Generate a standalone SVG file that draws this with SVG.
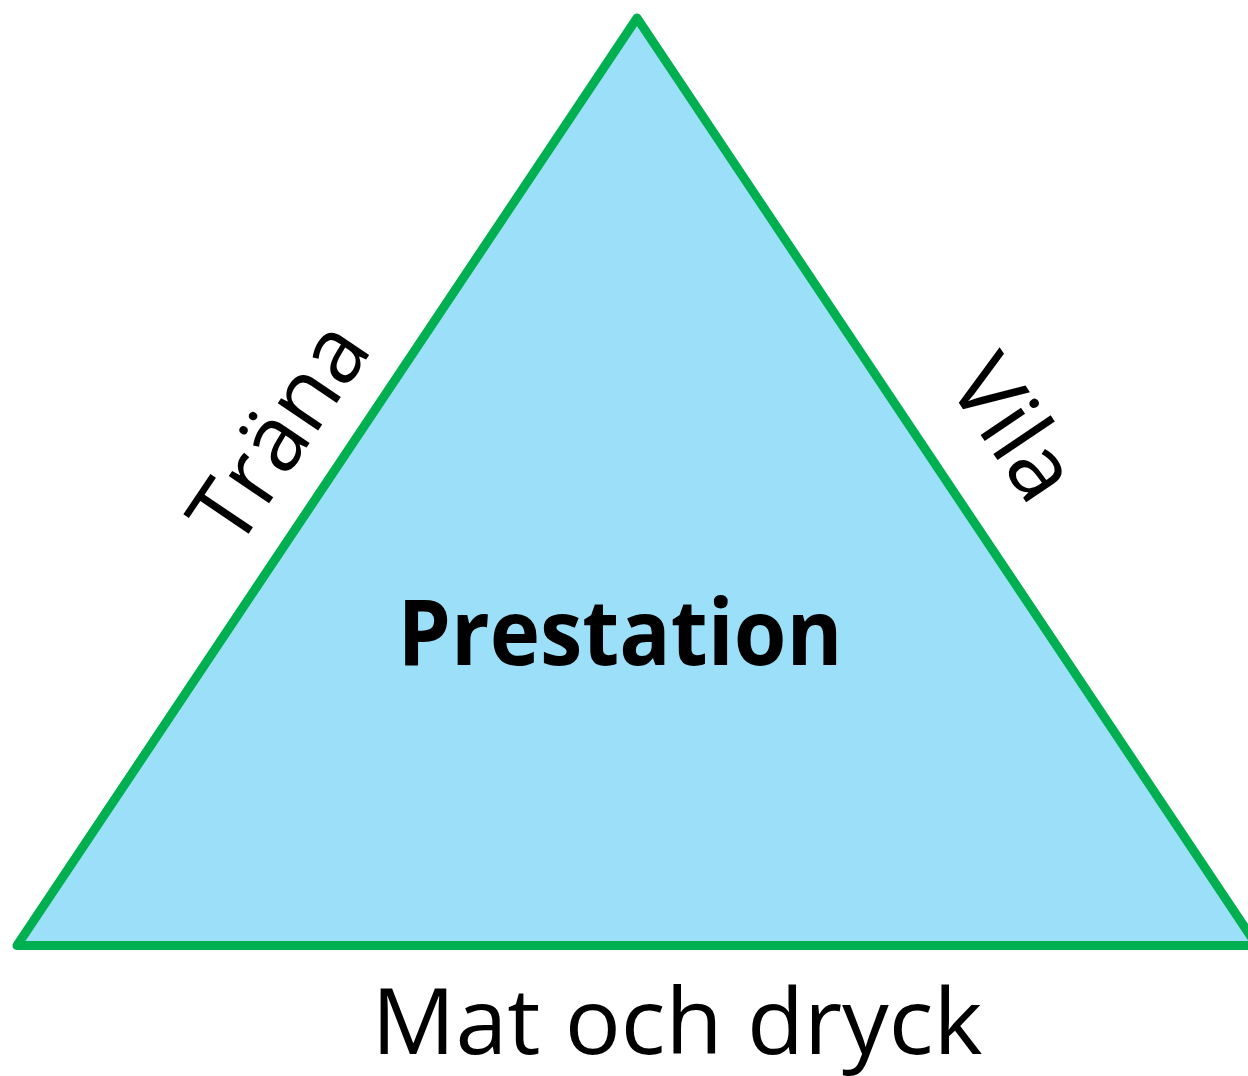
<svg xmlns="http://www.w3.org/2000/svg" width="1248" height="1076" viewBox="0 0 1248 1076">
<style>
.lbl{font-family:"Open Sans","Liberation Sans",sans-serif;fill:#000;text-anchor:middle}
</style>
<rect width="1248" height="1076" fill="#fff"/>
<g id="triangle">
<polygon points="637,18 17,945.5 1257,945.5" fill="#9BDFF8" stroke="#00B050" stroke-width="9" stroke-linejoin="round"/>
</g>
<g id="connectors"></g>
<g id="prestation">
<text class="lbl" x="620" y="665" font-size="91" font-weight="bold" textLength="445" lengthAdjust="spacingAndGlyphs">Prestation</text>
</g>
<g id="trana">
<text class="lbl" transform="translate(305,450) rotate(-56)" font-size="91">Träna</text>
</g>
<g id="vila">
<text class="lbl" transform="translate(988,446) rotate(56)" font-size="91">Vila</text>
</g>
<g id="mat">
<text class="lbl" x="677" y="1054" font-size="92" textLength="611" lengthAdjust="spacingAndGlyphs">Mat och dryck</text>
</g>
</svg>
